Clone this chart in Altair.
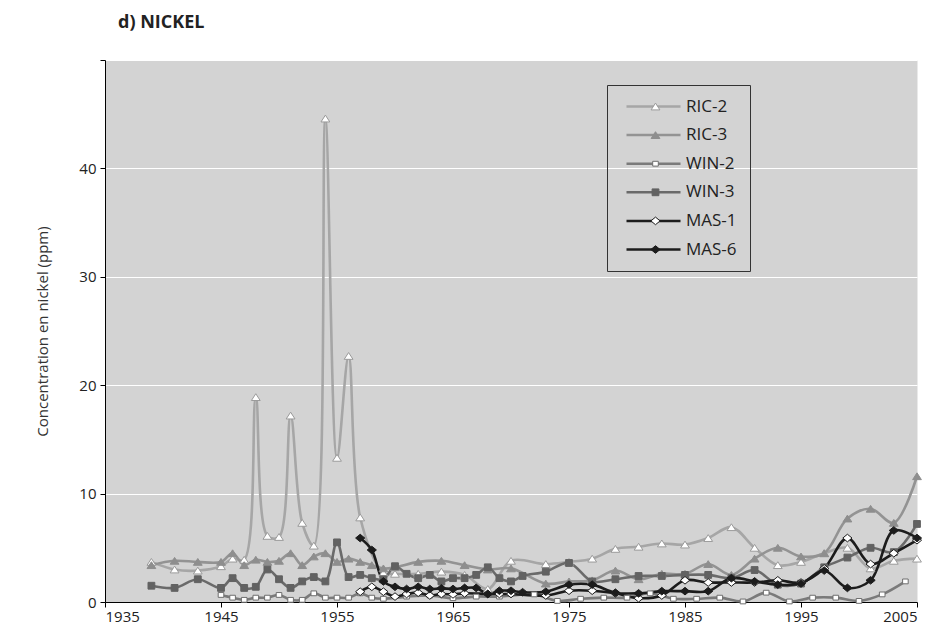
import altair as alt
import pandas as pd

series_names = ["RIC-2", "RIC-3", "WIN-2", "WIN-3", "MAS-1", "MAS-6"]

ric2_years = [1939, 1941, 1943, 1945, 1946, 1947, 1948, 1949, 1950, 1951, 1952, 1953, 1954, 1955, 1956, 1957,
              1959, 1960, 1962, 1964, 1966, 1968, 1970, 1973, 1975, 1977, 1979, 1981, 1983, 1985, 1987, 1989,
              1991, 1993, 1995, 1997, 1999, 2001, 2003, 2005]
ric2_vals = [3.7, 3.0, 2.9, 3.3, 4.0, 3.9, 18.9, 6.1, 6.0, 17.2, 7.3, 5.2, 44.6, 13.3, 22.7, 7.8,
             2.7, 2.6, 2.6, 2.8, 2.5, 1.2, 3.8, 3.5, 3.7, 4.0, 4.9, 5.1, 5.4, 5.3, 5.9, 6.9,
             5.0, 3.4, 3.7, 4.5, 5.0, 3.1, 3.8, 4.0]

ric3_years = [1939, 1941, 1943, 1945, 1946, 1947, 1948, 1949, 1950, 1951, 1952, 1953, 1954, 1955, 1956, 1957,
              1958, 1959, 1960, 1962, 1964, 1966, 1968, 1970, 1973, 1975, 1977, 1979, 1981, 1983, 1985, 1987,
              1989, 1991, 1993, 1995, 1997, 1999, 2001, 2003, 2005]
ric3_vals = [3.4, 3.8, 3.7, 3.7, 4.5, 3.4, 3.9, 3.7, 3.8, 4.5, 3.4, 4.2, 4.5, 3.7, 4.0, 3.7,
             3.4, 3.1, 3.2, 3.7, 3.8, 3.4, 3.0, 3.1, 1.7, 1.9, 2.0, 2.9, 2.1, 2.6, 2.6, 3.5,
             2.5, 4.0, 5.0, 4.2, 4.5, 7.7, 8.6, 7.3, 11.6]

win2_years = [1945, 1946, 1947, 1948, 1949, 1950, 1951, 1952, 1953, 1954, 1955, 1956, 1957, 1958, 1959,
              1961, 1963, 1965, 1967, 1969, 1972, 1974, 1976, 1978, 1980, 1982, 1984, 1986, 1988, 1990,
              1992, 1994, 1996, 1998, 2000, 2002, 2004]
win2_vals = [0.65, 0.4, 0.2, 0.4, 0.4, 0.65, 0.2, 0.2, 0.8, 0.4, 0.4, 0.4, 0.8, 0.4, 0.3,
             0.5, 0.6, 0.35, 0.5, 0.5, 0.7, 0.1, 0.3, 0.4, 0.4, 0.8, 0.3, 0.3, 0.4, 0.05,
             0.86, 0.05, 0.4, 0.4, 0.1, 0.7, 1.9]

win3_years = [1939, 1941, 1943, 1945, 1946, 1947, 1948, 1949, 1950, 1951, 1952, 1953, 1954, 1955, 1956, 1957,
              1958, 1959, 1960, 1961, 1962, 1963, 1964, 1965, 1966, 1967, 1968, 1969, 1970, 1971, 1973, 1975,
              1977, 1979, 1981, 1983, 1985, 1987, 1989, 1991, 1993, 1995, 1997, 1999, 2001, 2003, 2005]
win3_vals = [1.5, 1.3, 2.1, 1.3, 2.2, 1.3, 1.4, 3.0, 2.1, 1.3, 1.9, 2.3, 1.9, 5.5, 2.3, 2.5,
             2.2, 2.1, 3.3, 2.6, 2.2, 2.5, 1.9, 2.2, 2.2, 2.5, 3.2, 2.2, 1.9, 2.4, 2.8, 3.6,
             1.9, 2.1, 2.4, 2.4, 2.5, 2.5, 2.2, 2.95, 1.6, 1.7, 3.2, 4.1, 5.0, 4.6, 7.2]

mas1_years = [1957, 1958, 1959, 1960, 1961, 1962, 1963, 1964, 1965, 1966, 1968, 1969, 1970, 1973, 1975,
              1977, 1979, 1981, 1983, 1985, 1987, 1989, 1991, 1993, 1995, 1997, 1999, 2001, 2003, 2005]
mas1_vals = [0.95, 1.4, 0.95, 0.5, 0.74, 0.86, 0.6, 0.74, 0.7, 0.8, 0.74, 0.74, 0.74, 0.6, 1.04,
             1.04, 0.8, 0.35, 0.6, 2.0, 1.8, 1.8, 1.8, 2.0, 1.8, 3.1, 5.9, 3.5, 4.5, 5.7]

mas6_years = [1957, 1958, 1959, 1960, 1961, 1962, 1963, 1964, 1965, 1966, 1967, 1968, 1969, 1970, 1971,
              1973, 1975, 1977, 1979, 1981, 1983, 1985, 1987, 1989, 1991, 1993, 1995, 1997, 1999, 2001,
              2003, 2005]
mas6_vals = [5.9, 4.8, 1.9, 1.4, 1.2, 1.4, 1.2, 1.26, 1.2, 1.3, 1.3, 0.74, 1.04, 1.04, 0.9,
             0.95, 1.6, 1.6, 0.86, 0.8, 1.0, 1.0, 1.0, 2.2, 1.9, 1.6, 1.7, 2.9, 1.3, 2.0,
             6.6, 5.9]

x_ticks = [1935, 1945, 1955, 1965, 1975, 1985, 1995, 2005]
y_ticks = [0, 10, 20, 30, 40, 50]

line_colors = ["#a6a6a6", "#939393", "#7a7a7a", "#6a6a6a", "#1c1c1c", "#1c1c1c"]
point_fills = ["#ffffff", "#8e8e8e", "#ffffff", "#626262", "#ffffff", "#1c1c1c"]
point_strokes = ["#9a9a9a", "#8e8e8e", "#6e6e6e", "#626262", "#1c1c1c", "#1c1c1c"]
# marker outlines (unit box scaled by the symbol size)
point_shapes = [
    "M0,-0.85L1.1,0.85L-1.1,0.85Z",
    "M0,-0.85L1.1,0.85L-1.1,0.85Z",
    "M-0.7,-0.6H0.7V0.6H-0.7Z",
    "M-0.85,-0.85H0.85V0.85H-0.85Z",
    "M0,-0.95L1.15,0L0,0.95L-1.15,0Z",
    "M0,-0.95L1.15,0L0,0.95L-1.15,0Z",
]

all_years = [ric2_years, ric3_years, win2_years, win3_years, mas1_years, mas6_years]
all_vals = [ric2_vals, ric3_vals, win2_vals, win3_vals, mas1_vals, mas6_vals]

rows = []
for idx, (name, yrs, vals) in enumerate(zip(series_names, all_years, all_vals)):
    for yr, v in zip(yrs, vals):
        rows.append({"series": name, "series_idx": idx, "year": yr, "value": v})
df = pd.DataFrame(rows)
idx_domain = list(range(len(series_names)))

FONT = "Open Sans"

x_enc = alt.X("year:Q",
              scale=alt.Scale(domain=[1935, 2005], nice=False, zero=False),
              axis=alt.Axis(values=x_ticks, format="d", title=None, grid=False,
                            domainColor="#000000", tickColor="#000000", tickSize=5,
                            labelFont=FONT, labelFontSize=15, labelColor="#222222",
                            labelPadding=2))
y_enc = alt.Y("value:Q",
              scale=alt.Scale(domain=[0, 50], nice=False),
              axis=alt.Axis(values=y_ticks, title="Concentration en nickel (ppm)",
                            labelExpr="datum.value == 50 ? '' : datum.label",
                            grid=True, gridColor="#ffffff", gridWidth=1,
                            domainColor="#000000", tickColor="#000000", tickSize=5,
                            labelFont=FONT, labelFontSize=15, labelColor="#222222",
                            labelPadding=4, titleFont=FONT, titleFontSize=15,
                            titleFontWeight="normal", titleColor="#333333", titlePadding=28))

legend_line = alt.Legend(orient="none", legendX=502, legendY=25, title=None,
                         symbolType="stroke", symbolSize=2916, symbolStrokeWidth=2.5,
                         symbolOffset=5,
                         clipHeight=17, rowPadding=10.6, padding=13,
                         strokeColor="#333333", labelFont=FONT, labelFontSize=17,
                         labelColor="#222222", labelOffset=4, labelLimit=90, zindex=1)
legend_pts = alt.Legend(orient="none", legendX=524.0, legendY=25, title=None,
                        symbolSize=64, symbolStrokeWidth=1, symbolOpacity=1,
                        symbolOffset=5,
                        clipHeight=17, rowPadding=10.6, padding=13,
                        labelOpacity=0, labelFontSize=17, zindex=2)

lines = alt.Chart(df).mark_line(interpolate="catmull-rom", strokeWidth=2.6).encode(
    x=x_enc,
    y=y_enc,
    color=alt.Color("series:N", scale=alt.Scale(domain=series_names, range=line_colors),
                    legend=legend_line),
)

points = alt.Chart(df).mark_point(opacity=1, strokeWidth=1, size=64).encode(
    x=x_enc,
    y=y_enc,
    shape=alt.Shape("series_idx:O", scale=alt.Scale(domain=idx_domain, range=point_shapes),
                    legend=legend_pts),
    fill=alt.Fill("series_idx:O", scale=alt.Scale(domain=idx_domain, range=point_fills),
                  legend=legend_pts),
    stroke=alt.Stroke("series_idx:O", scale=alt.Scale(domain=idx_domain, range=point_strokes),
                      legend=legend_pts),
)

chart = alt.layer(lines, points).properties(
    width=812,
    height=542,
    autosize=alt.AutoSizeParams(type="none"),
    padding={"left": 97, "top": 52, "right": 20, "bottom": 30},
    title=alt.TitleParams("d) NICKEL", anchor="start", frame="group", font=FONT, fontSize=18,
                          fontWeight="bold", color="#222222", dx=13, offset=28),
).configure_view(fill="#d3d3d3", stroke="transparent")

chart.save("out.html", embed_options={"renderer": "svg", "actions": False})
